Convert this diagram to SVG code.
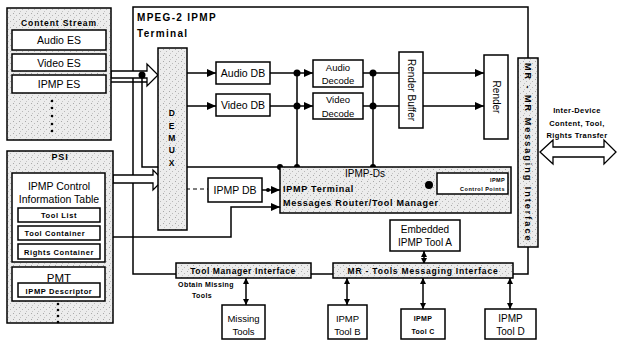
<svg xmlns="http://www.w3.org/2000/svg" width="617" height="343" viewBox="0 0 617 343">
<defs>
<pattern id="stip" width="6" height="6" patternUnits="userSpaceOnUse">
<rect width="6" height="6" fill="#ececec"/>
<rect x="1" y="1" width="1" height="1" fill="#a8a8a8"/>
<rect x="4" y="3" width="1" height="1" fill="#b8b8b8"/>
<rect x="2" y="5" width="1" height="1" fill="#c4c4c4"/>
</pattern>
<marker id="arr" markerUnits="userSpaceOnUse" markerWidth="9" markerHeight="8" refX="9" refY="4" orient="auto-start-reverse">
<path d="M0,0 L9,4 L0,8 z" fill="#000"/>
</marker>
<marker id="arrS" markerUnits="userSpaceOnUse" markerWidth="6" markerHeight="6" refX="6" refY="3" orient="auto-start-reverse">
<path d="M0,0 L6,3 L0,6 z" fill="#000"/>
</marker>
</defs>
<style>
.box{fill:#fff;stroke:#000;stroke-width:1.5}
.sh{fill:url(#stip);stroke:#000;stroke-width:1.5}
.ln{fill:none;stroke:#000;stroke-width:1.5}
.dash{fill:none;stroke:#000;stroke-width:1.2;stroke-dasharray:4 3}
.hol{fill:#fff;stroke:#000;stroke-width:1.3}
.t{font-family:"Liberation Sans",Arial,sans-serif;font-size:10.5px;fill:#000;text-anchor:middle}
.tb{font-family:"Liberation Sans",Arial,sans-serif;font-weight:bold;font-size:8px;fill:#000;text-anchor:middle;letter-spacing:0.6px}
.dot{fill:#000}
</style>
<rect width="617" height="343" fill="#fff"/>

<g id="connectors">
<path class="ln" d="M176 274 H133 V7 H528 V58"/>
<path class="ln" d="M513 274 H528 V247"/>
<path class="ln" d="M311 274 H333"/>
<path class="ln" d="M142 75 V167 H280"/>
<path class="ln" d="M111 82 H151"/>
<polygon class="hol" points="111,71 147,71 147,64 158,75 147,86 147,78 111,78"/>
<polygon class="hol" points="113,175 153,175 153,170 163,180 153,190 153,183 113,183"/>
<path class="dash" d="M160 75 H182 V189 H208"/>
<path class="ln" d="M187 73 H216" marker-end="url(#arr)"/>
<path class="ln" d="M187 106 H216" marker-end="url(#arr)"/>
<path class="ln" d="M270 73 H313" marker-end="url(#arr)"/>
<path class="ln" d="M270 106 H313" marker-end="url(#arr)"/>
<path class="ln" d="M297 73 V167"/>
<path class="ln" d="M363 73 H399"/>
<path class="ln" d="M363 106 H399"/>
<path class="ln" d="M373 73 V167"/>
<path class="ln" d="M423 73 H484" marker-end="url(#arr)"/>
<path class="ln" d="M423 106 H484" marker-end="url(#arr)"/>
<path class="ln" d="M262 190 H280" marker-end="url(#arr)"/>
<path class="ln" d="M113 237 H231 V207 H280" marker-end="url(#arr)"/>
<path class="ln" d="M424 251 V264" marker-start="url(#arrS)" marker-end="url(#arrS)"/>
<path class="ln" d="M246 278 V305" marker-start="url(#arrS)" marker-end="url(#arrS)"/>
<path class="ln" d="M347 278 V305" marker-start="url(#arrS)" marker-end="url(#arrS)"/>
<path class="ln" d="M423 278 V309" marker-start="url(#arrS)" marker-end="url(#arrS)"/>
<path class="ln" d="M510 278 V309" marker-start="url(#arrS)" marker-end="url(#arrS)"/>
<polygon class="hol" points="540,152 553,140 553,147 604,147 604,140 616,152 604,164 604,157 553,157 553,164"/>
<circle class="dot" cx="142" cy="75" r="3.5"/>
<circle class="dot" cx="297" cy="73" r="3.5"/>
<circle class="dot" cx="297" cy="106" r="3.5"/>
<circle class="dot" cx="373" cy="73" r="3.5"/>
<circle class="dot" cx="373" cy="106" r="3.5"/>
<circle class="dot" cx="297" cy="167" r="3"/>
<circle class="dot" cx="373" cy="167" r="3"/>
<circle class="dot" cx="280" cy="167" r="3"/>
<circle class="dot" cx="268" cy="190" r="2"/>
</g>

<g id="terminal-label">
<text x="137" y="21" style="font-family:'Liberation Sans',Arial,sans-serif;font-weight:bold;font-size:10px;letter-spacing:1.3px">MPEG-2 IPMP</text>
<text x="137" y="37" style="font-family:'Liberation Sans',Arial,sans-serif;font-weight:bold;font-size:10px;letter-spacing:1.3px">Terminal</text>
</g>

<g id="content-stream">
<rect class="sh" x="7" y="8" width="104" height="132"/>
<text class="tb" x="59" y="26" style="font-size:8.5px;letter-spacing:0.9px">Content Stream</text>
<rect class="box" x="12" y="30" width="94" height="20"/>
<text class="t" x="59" y="44">Audio ES</text>
<rect class="box" x="12" y="54" width="94" height="17"/>
<text class="t" x="59" y="66.5">Video ES</text>
<rect class="box" x="12" y="75" width="94" height="18"/>
<text class="t" x="59" y="88">IPMP ES</text>
<circle class="dot" cx="52" cy="101" r="1.3"/>
<circle class="dot" cx="52" cy="108" r="1.3"/>
<circle class="dot" cx="52" cy="116" r="1.3"/>
<circle class="dot" cx="52" cy="124" r="1.3"/>
<circle class="dot" cx="52" cy="131" r="1.3"/>
</g>

<g id="psi">
<rect class="sh" x="7" y="151" width="106" height="172"/>
<text class="tb" x="60" y="160" style="font-size:9px;letter-spacing:0.8px">PSI</text>
<rect class="box" x="12" y="173" width="93" height="89"/>
<text class="t" x="59" y="190">IPMP Control</text>
<text class="t" x="59" y="203">Information Table</text>
<rect class="box" x="18" y="208" width="82" height="14"/>
<text class="tb" x="59" y="218" style="font-size:7.5px">Tool List</text>
<rect class="box" x="18" y="226" width="82" height="14"/>
<text class="tb" x="55" y="236" style="font-size:7.5px">Tool Container</text>
<rect class="box" x="18" y="244" width="82" height="15"/>
<text class="tb" x="59" y="254.5" style="font-size:7.5px">Rights Container</text>
<rect class="box" x="12" y="267" width="93" height="34"/>
<text class="t" x="59" y="281.5" style="font-size:11.5px">PMT</text>
<rect class="box" x="18" y="283" width="82" height="14"/>
<text class="tb" x="59" y="293.5" style="font-size:7.5px">IPMP Descriptor</text>
<circle class="dot" cx="58" cy="304" r="1.3"/>
<circle class="dot" cx="58" cy="310" r="1.3"/>
<circle class="dot" cx="58" cy="316" r="1.3"/>
<circle class="dot" cx="58" cy="322" r="1.3"/>
</g>

<g id="demux">
<rect class="sh" x="158" y="48" width="29" height="182"/>
<text class="tb" x="172" y="116" style="font-size:8.5px">D</text>
<text class="tb" x="172" y="129" style="font-size:8.5px">E</text>
<text class="tb" x="172" y="141" style="font-size:8.5px">M</text>
<text class="tb" x="172" y="153" style="font-size:8.5px">U</text>
<text class="tb" x="172" y="166" style="font-size:8.5px">X</text>
</g>

<g id="audio-db">
<rect class="box" x="216" y="62" width="54" height="22"/>
<text class="t" x="243" y="77">Audio DB</text>
</g>
<g id="video-db">
<rect class="box" x="216" y="94" width="54" height="22"/>
<text class="t" x="243" y="109">Video DB</text>
</g>
<g id="audio-decode">
<rect class="box" x="313" y="60" width="50" height="27"/>
<text class="t" x="338" y="70.5" style="font-size:9.5px">Audio</text>
<text class="t" x="338" y="83.5" style="font-size:9.5px">Decode</text>
</g>
<g id="video-decode">
<rect class="box" x="313" y="93" width="50" height="26"/>
<text class="t" x="338" y="103" style="font-size:9.5px">Video</text>
<text class="t" x="338" y="116.5" style="font-size:9.5px">Decode</text>
</g>
<g id="render-buffer">
<rect class="box" x="399" y="52" width="24" height="76"/>
<text class="t" transform="translate(411,90) rotate(90)" y="3.5" style="font-size:10px">Render Buffer</text>
</g>
<g id="render">
<rect class="box" x="484" y="55" width="24" height="84"/>
<text class="t" transform="translate(496,97) rotate(90)" y="3.5" style="font-size:10px">Render</text>
</g>

<g id="mr-mr-interface">
<rect class="sh" x="518" y="58" width="20" height="189"/>
<text class="tb" transform="translate(528,152) rotate(90)" y="3.2" textLength="178" lengthAdjust="spacing" style="font-size:9px">MR - MR Messaging Interface</text>
</g>
<g id="inter-device-label">
<text class="tb" x="577" y="112.5" style="font-size:7.5px;letter-spacing:0.4px">Inter-Device</text>
<text class="tb" x="577" y="125.5" style="font-size:7.5px;letter-spacing:0.4px">Content, Tool,</text>
<text class="tb" x="577" y="138" style="font-size:7.5px;letter-spacing:0.4px">Rights Transfer</text>
</g>

<g id="ipmp-db">
<rect class="box" x="208" y="178" width="54" height="24"/>
<text class="t" x="235" y="193.5">IPMP DB</text>
</g>

<g id="message-router">
<rect class="sh" x="280" y="167" width="231" height="46"/>
<text class="t" x="365" y="176.5" style="font-size:10px">IPMP-Ds</text>
<text x="283" y="192" style="font-family:'Liberation Sans',Arial,sans-serif;font-weight:bold;font-size:9px;letter-spacing:0.75px">IPMP Terminal</text>
<text x="283" y="206" style="font-family:'Liberation Sans',Arial,sans-serif;font-weight:bold;font-size:9px;letter-spacing:0.75px">Messages Router/Tool Manager</text>
<circle class="dot" cx="429" cy="185" r="4"/>
<rect class="box" x="437" y="173" width="71" height="21"/>
<text x="505" y="181.5" style="font-family:'Liberation Sans',Arial,sans-serif;font-weight:bold;font-size:5.5px;text-anchor:end;letter-spacing:0.4px">IPMP</text>
<text x="505" y="191" style="font-family:'Liberation Sans',Arial,sans-serif;font-weight:bold;font-size:5.5px;text-anchor:end;letter-spacing:0.5px">Control Points</text>
</g>

<g id="embedded-tool-a">
<rect class="box" x="390" y="220" width="70" height="31"/>
<text class="t" x="425" y="233" style="font-size:10px">Embedded</text>
<text class="t" x="425" y="246" style="font-size:10px">IPMP Tool A</text>
</g>

<g id="tool-manager-interface">
<rect class="sh" x="176" y="263" width="135" height="15"/>
<text class="tb" x="243" y="274" style="font-size:8.5px">Tool Manager Interface</text>
</g>
<g id="mr-tools-interface">
<rect class="sh" x="333" y="263" width="180" height="15"/>
<text class="tb" x="423" y="274" style="font-size:8.5px;letter-spacing:0.8px">MR - Tools Messaging Interface</text>
</g>

<g id="obtain-label">
<text class="tb" x="206" y="287" style="font-size:7px;letter-spacing:0.4px">Obtain Missing</text>
<text class="tb" x="202" y="298" style="font-size:7px;letter-spacing:0.4px">Tools</text>
</g>

<g id="missing-tools">
<rect class="box" x="222" y="305" width="43" height="34"/>
<text class="t" x="243.5" y="322" style="font-size:9.5px">Missing</text>
<text class="t" x="243.5" y="334.5" style="font-size:9.5px">Tools</text>
</g>
<g id="tool-b">
<rect class="box" x="328" y="305" width="39" height="34"/>
<text class="t" x="347.5" y="322" style="font-size:9.5px">IPMP</text>
<text class="t" x="347.5" y="334.5" style="font-size:9.5px">Tool B</text>
</g>
<g id="tool-c">
<rect class="box" x="401" y="309" width="44" height="30"/>
<text class="tb" x="423" y="321" style="font-size:7px;letter-spacing:0.3px">IPMP</text>
<text class="tb" x="423" y="333.5" style="font-size:7px;letter-spacing:0.3px">Tool C</text>
</g>
<g id="tool-d">
<rect class="box" x="485" y="309" width="51" height="30"/>
<text class="t" x="510.5" y="321.5" style="font-size:10px">IPMP</text>
<text class="t" x="510.5" y="334.5" style="font-size:10px">Tool D</text>
</g>
</svg>
